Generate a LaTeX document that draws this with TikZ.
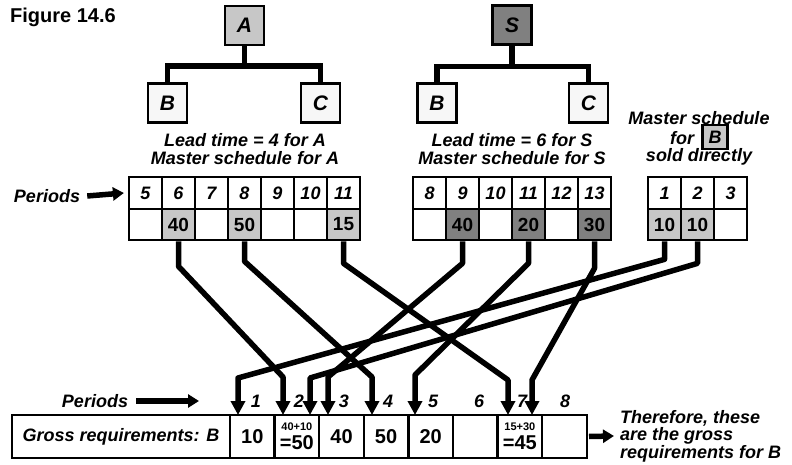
\documentclass[tikz,border=0pt]{standalone}
\usepackage{fontspec}
\setmainfont{Liberation Sans}
\usetikzlibrary{arrows.meta,calc}
\definecolor{lightfill}{gray}{0.78}
\definecolor{darkfill}{gray}{0.5}
\definecolor{paper}{gray}{0.97}

\begin{document}
\begin{tikzpicture}[x=1pt,y=-1pt,
  txt/.style={font=\fontsize{18}{17.5}\selectfont\bfseries\itshape, inner sep=0pt},
  item/.style={draw, line width=2.4pt, minimum width=39pt, minimum height=39pt, inner sep=0pt,
    font=\fontsize{21}{21}\selectfont\bfseries\itshape},
  per/.style={draw, line width=2.2pt, minimum width=33pt, minimum height=31.5pt, inner sep=0pt,
    font=\fontsize{18}{18}\selectfont\bfseries\itshape},
  qty/.style={per, font=\fontsize{19}{19}\selectfont\bfseries},
  gcell/.style={draw, line width=2.4pt, minimum width=44.6pt, minimum height=43pt, inner sep=0pt,
    font=\fontsize{20}{20}\selectfont\bfseries},
  tree/.style={line width=5.5pt, line join=miter},
  feed/.style={line width=5.5pt, line join=round, -{Triangle[width=14pt,length=14pt]}},
  pointer/.style={line width=5.5pt, -{Triangle[width=13pt,length=11pt]}}]

\useasboundingbox (0,0) rectangle (792,465);

\node[anchor=west, inner sep=0pt, font=\fontsize{20}{20}\selectfont\bfseries] (fig) at (10,17) {Figure 14.6};

% product structure trees
\node[item, fill=lightfill] (A) at (244.5,25.5) {A};
\node[item, fill=paper] (AB) at (167.5,103) {B};
\node[item, fill=paper] (AC) at (320.5,103) {C};
\draw[tree] (A.south) -- ++(0,20) -| (AB.north);
\draw[tree] (A.south) -- ++(0,20) -| (AC.north);

\node[item, fill=darkfill] (S) at (512,25) {S};
\node[item, fill=paper] (SB) at (437,103) {B};
\node[item, fill=paper] (SC) at (588.5,103) {C};
\draw[tree] (S.south) -- ++(0,21) -| (SB.north);
\draw[tree] (S.south) -- ++(0,21) -| (SC.north);

\node[txt] (leadA) at (245,140) {Lead time = 4 for A};
\node[txt] (mastA) at (245,158) {Master schedule for A};
\node[txt] (leadS) at (512,140) {Lead time = 6 for S};
\node[txt] (mastS) at (512,158) {Master schedule for S};

\node[txt] (mastB) at (699,118) {Master schedule};
\node[txt] (forB) at (682,138) {for};
\node[draw, line width=2.2pt, fill=lightfill, minimum width=25pt, minimum height=24pt, inner sep=0pt,
  font=\fontsize{18}{18}\selectfont\bfseries\itshape] (smallB) at (715,137) {B};
\node[txt] (soldB) at (699,157) {sold directly};

% master schedule for A
\foreach \p [count=\i from 0] in {5,...,11}
  \node[per] (a\p h) at (145.5+33*\i,193) {\p};
\node[qty] (a5v) at (145.5,224.5) {};
\node[qty, fill=lightfill] (a6v) at (178.5,224.5) {40};
\node[qty] (a7v) at (211.5,224.5) {};
\node[qty, fill=lightfill] (a8v) at (244.5,224.5) {50};
\node[qty] (a9v) at (277.5,224.5) {};
\node[qty] (a10v) at (310.5,224.5) {};
\node[qty, fill=lightfill] (a11v) at (343.5,224.5) {15};

\node[txt] (ptop) at (47,196) {Periods};
\draw[pointer] ([xshift=7pt]ptop.east) -- ([xshift=-4pt]a5h.west);

% master schedule for S
\foreach \p [count=\i from 0] in {8,...,13}
  \node[per] (s\p h) at (429.5+33*\i,193) {\p};
\node[qty] (s8v) at (429.5,224.5) {};
\node[qty, fill=darkfill] (s9v) at (462.5,224.5) {40};
\node[qty] (s10v) at (495.5,224.5) {};
\node[qty, fill=darkfill] (s11v) at (528.5,224.5) {20};
\node[qty] (s12v) at (561.5,224.5) {};
\node[qty, fill=darkfill] (s13v) at (594.5,224.5) {30};

% master schedule for B sold directly
\foreach \p [count=\i from 0] in {1,2,3}
  \node[per] (b\p h) at (664.5+33*\i,193) {\p};
\node[qty, fill=lightfill] (b1v) at (664.5,224.5) {10};
\node[qty, fill=lightfill] (b2v) at (697.5,224.5) {10};
\node[qty] (b3v) at (730.5,224.5) {};

% gross requirements row
\node[draw, line width=2.4pt, minimum width=218pt, minimum height=43pt, inner sep=0pt] (glabel) at (121,436.5) {};
\node[txt] (gtext) at (121,436.5) {Gross requirements: B};
\node[gcell] (g1) at (252.3,436.5) {10};
\node[gcell, align=center] (g2) at (296.9,436.5) {{\fontsize{11}{11}\selectfont 40+10}\\[-1pt]=50};
\node[gcell] (g3) at (341.5,436.5) {40};
\node[gcell] (g4) at (386.1,436.5) {50};
\node[gcell] (g5) at (430.7,436.5) {20};
\node[gcell] (g6) at (475.3,436.5) {};
\node[gcell, align=center] (g7) at (519.9,436.5) {{\fontsize{11}{11}\selectfont 15+30}\\[-1pt]=45};
\node[gcell] (g8) at (564.5,436.5) {};

\foreach \p/\x in {1/256,2/299,3/344,4/388,5/433,6/479,7/522,8/565}
  \node[font=\fontsize{18}{18}\selectfont\bfseries\itshape, inner sep=0pt] (n\p) at (\x,401) {\p};

\node[txt] (pbot) at (95,401) {Periods};
\coordinate (pend) at (199,401);
\draw[pointer] ([xshift=8pt]pbot.east) -- (pend);

\node[txt, align=left, anchor=west] (concl) at (620,436) {Therefore, these\\are the gross\\requirements for B};
\draw[pointer] ([xshift=1pt]g8.east) -- ([xshift=-6pt]concl.west);

% arrow tips on top of the gross requirements row
\coordinate (t1) at (238,415);
\coordinate (t2a) at (283,415);
\coordinate (t2b) at (310,415);
\coordinate (t3) at (328,415);
\coordinate (t4) at (372,415);
\coordinate (t5) at (415,415);
\coordinate (t7a) at (508,415);
\coordinate (t7b) at (532,415);

% offsets: A lead time 4, S lead time 6, B sold directly
\draw[feed] (a6v.south) -- ++(0,25) -- ($(t2a)+(0,-38)$) -- (t2a);
\draw[feed] (a8v.south) -- ++(0,20) -- ($(t4)+(0,-38)$) -- (t4);
\draw[feed] (a11v.south) -- ++(0,22) -- ($(t7a)+(0,-35)$) -- (t7a);
\draw[feed] (s9v.south) -- ++(0,22) -- ($(t3)+(0,-38)$) -- (t3);
\draw[feed] (s11v.south) -- ++(0,22) -- ($(t5)+(0,-40)$) -- (t5);
\draw[feed] (s13v.south) -- ++(0,27) -- ($(t7b)+(0,-35)$) -- (t7b);
\draw[feed] (b1v.south) -- ++(0,18) -- ($(t1)+(0,-37)$) -- (t1);
\draw[feed] (b2v.south) -- ++(0,22) -- ($(t2b)+(0,-37)$) -- (t2b);

\end{tikzpicture}
\end{document}
